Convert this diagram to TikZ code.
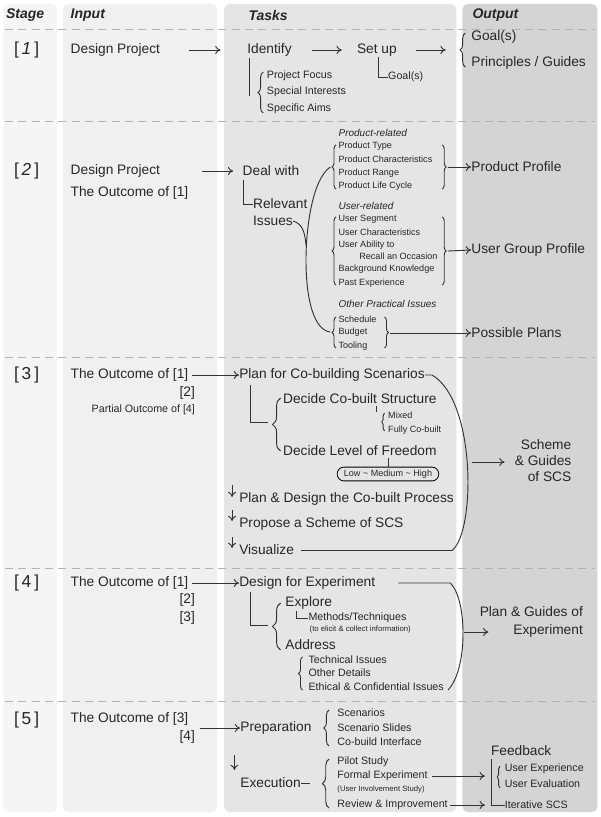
\documentclass[tikz,border=0pt]{standalone}
\usepackage{fontspec}
\setmainfont{Liberation Sans}
\usetikzlibrary{decorations.pathreplacing,arrows.meta}
\begin{document}
\begin{tikzpicture}[x=0.866pt,y=-0.75pt,
    every node/.style={inner sep=0pt,anchor=west,text=black!85},
    main/.style={font=\fontsize{10.3}{11}\selectfont},
    small/.style={font=\fontsize{6.8}{7}\selectfont},
    mid/.style={font=\fontsize{8}{9}\selectfont},
    tiny/.style={font=\fontsize{5.8}{6}\selectfont},
    cat/.style={font=\fontsize{7.5}{8}\selectfont\itshape},
    head/.style={font=\fontsize{10.5}{11}\selectfont\bfseries\itshape},
    stage/.style={anchor=center,font=\fontsize{13}{13}\selectfont},
    link/.style={line width=0.7pt,black!80},
    go/.style={link,-{To[length=4pt,width=6pt]}},
    brace/.style={link,decorate,decoration={brace,amplitude=#1}},
    brace/.default=4pt,
    sep/.style={gray!60,dashed,dash pattern=on 6pt off 4pt,line width=0.6pt}]
    % Column backgrounds
    \useasboundingbox (0,0) rectangle (520,817);
    \begin{scope}[xscale=0.8667]
    \fill[black!4,rounded corners=4pt] (3,4) rectangle (57,812);
    \fill[black!6,rounded corners=4pt] (63,4) rectangle (217,812);
    \fill[black!10,rounded corners=4pt] (224,4) rectangle (456,812);
    \fill[black!17,rounded corners=4pt] (462,4) rectangle (597,812);
    \foreach \y in {29,121,357,568,701} \draw[sep] (5,\y) -- (595,\y);
    \end{scope}

    % Headers
    \node[head] (hstage) at (5,15) {Stage};
    \node[head] (hinput) at (61,15) {Input};
    \node[head] (htasks) at (215,15) {Tasks};
    \node[head] (houtput) at (409,15) {Output};

    % Stage 1
    \node[stage] (s1) at (23,50) {[\,\textit{1}\,]};
    \node[main] (in1) at (61,50) {Design Project};
    \node[main] (ident) at (214,50) {Identify};
    \node[main] (setup) at (309,50) {Set up};
    \node[main] (goal) at (408,37) {Goal(s)};
    \node[main] (princ) at (408,63) {Principles / Guides};
    \node[mid] (pf) at (231,76) {Project Focus};
    \node[mid] (si) at (231,92) {Special Interests};
    \node[mid] (sa) at (231,109) {Specific Aims};
    \node[mid] (goal1) at (336,77) {Goal(s)};
    \draw[go] (164,50) -- (191,50);
    \draw[go] (270,50) -- (296,50);
    \draw[go] (360,50) -- (386,50);
    \draw[brace] (403,67) -- (403,33);
    \draw[link] (216,58) -- (216,96);
    \draw[brace] (228,113) -- (228,72);
    \draw[link] (328,57) |- (goal1.west);

    % Stage 2
    \node[stage] (s2) at (23,171) {[\,\textit{2}\,]};
    \node[main] (in2) at (61,171) {Design Project};
    \node[main] (in2b) at (61,193) {The Outcome of [1]};
    \node[main] (deal) at (210,171) {Deal with};
    \node[main] (relev) at (219,204) {Relevant};
    \node[main] (issue) at (219,221) {Issues};
    \draw[go] (175,171) -- (202,171);
    \draw[link] (211,180) |- (relev.west);
    \node[cat] (cprod) at (293,133) {Product-related};
    \foreach \t [count=\i] in {Product Type,Product Characteristics,Product Range,Product Life Cycle}
        \node[small] (p\i) at (293,133+13.3*\i) {\t};
    \node[cat] (cuser) at (293,206) {User-related};
    \node[small] (u1) at (293,219) {User Segment};
    \node[small] (u2) at (293,232) {User Characteristics};
    \node[small] (u3) at (293,245) {User Ability to};
    \node[small] (u3b) at (311,256) {Recall an Occasion};
    \node[small] (u4) at (293,269) {Background Knowledge};
    \node[small] (u5) at (293,283) {Past Experience};
    \node[cat] (cother) at (293,304) {Other Practical Issues};
    \node[small] (o1) at (293,319) {Schedule};
    \node[small] (o2) at (293,332) {Budget};
    \node[small] (o3) at (293,346) {Tooling};
    \node[main] (pprof) at (408,167) {Product Profile};
    \node[main] (ugprof) at (408,250) {User Group Profile};
    \node[main] (plans) at (408,333) {Possible Plans};
    \draw[brace=3pt] (291,189) -- (291,145);
    \draw[brace=3pt] (291,285) -- (291,217);
    \draw[brace=3pt] (291,348) -- (291,317);
    \draw[brace=3pt] (383,145) -- (383,189);
    \draw[brace=3pt] (383,217) -- (383,285);
    \draw[brace=3pt] (333,317) -- (333,348);
    \draw[link] (286,167) .. controls (270,180) and (265,230) .. (265,260)
        .. controls (265,300) and (272,330) .. (286,332);
    \draw[link] (issue.east) .. controls (262,224) and (264,232) .. (265,245);
    \draw[go] (388,167) -- (pprof.west);
    \draw[go] (388,251) -- (ugprof.west);
    \draw[go] (338,333) -- (plans.west);

    % Stage 3
    \node[stage] (s3) at (23,375) {[\,3\,]};
    \node[main] (in3) at (61,375) {The Outcome of [1]};
    \node[main,anchor=east] (in3b) at (169,393) {[2]};
    \node[mid,anchor=east] (in3c) at (169,410) {Partial Outcome of [4]};
    \node[main] (plan) at (207,375) {Plan for Co-building Scenarios};
    \node[main] (dcs) at (245,399) {Decide Co-built Structure};
    \node[small] (mixed) at (336,415) {Mixed};
    \node[small] (fully) at (336,430) {Fully Co-built};
    \node[main] (dlf) at (245,451) {Decide Level of Freedom};
    \node[small,draw,rounded corners=5pt,line width=0.6pt,inner xsep=5pt,inner ysep=2pt,anchor=center]
        (lmh) at (336,474) {Low \textasciitilde{} Medium \textasciitilde{} High};
    \node[main] (pdp) at (207,499) {Plan \& Design the Co-built Process};
    \node[main] (pss) at (207,524) {Propose a Scheme of SCS};
    \node[main] (vis) at (207,550) {Visualize};
    \node[main,align=right,anchor=east] (scheme) at (495,461) {Scheme\\[1pt]\& Guides\\[1pt]of SCS};
    \draw[go] (in3.east) ++(3,0) -- (plan.west);
    \draw[link] (plan.east) -- ++(6,0) coordinate (c3)
        .. controls (412,400) and (412,530) .. (392,550) coordinate (d3);
    \draw[link] (vis.east) ++(6,0) -- (d3);
    \draw[link] (217,385) |- (232,422);
    \draw[brace=6pt] (243,451) -- (243,398);
    \draw[brace=2pt] (333,431) -- (333,413);
    \draw[link] (326,406) -- (326,412);
    \draw[link] (336,458) -- (lmh.north);
    \draw[go] (409,462) -- (437,462);
    \foreach \a/\b in {485/497,510/521,537/548} \draw[go] (201,\a) -- (201,\b);

    % Stage 4
    \node[stage] (s4) at (23,583) {[\,4\,]};
    \node[main] (in4) at (61,583) {The Outcome of [1]};
    \node[main,anchor=east] (in4b) at (169,600) {[2]};
    \node[main,anchor=east] (in4c) at (169,618) {[3]};
    \node[main] (dfe) at (207,583) {Design for Experiment};
    \node[main] (expl) at (247,603) {Explore};
    \node[mid] (meth) at (267,618) {Methods/Techniques};
    \node[tiny] (elicit) at (268,629) {(to elicit \& collect information)};
    \node[main] (addr) at (247,645) {Address};
    \node[mid] (tech) at (267,660) {Technical Issues};
    \node[mid] (oth) at (267,673) {Other Details};
    \node[mid] (eth) at (267,687) {Ethical \& Confidential Issues};
    \node[main,align=right,anchor=east] (pge) at (505,622) {Plan \& Guides of\\[2pt]Experiment};
    \draw[go] (in4.east) ++(3,0) -- (dfe.west);
    \draw[link] (345,583) -- (390,583)
        .. controls (405,600) and (405,670) .. (388,690);
    \draw[go] (402,632) -- (423,632);
    \draw[link] (217,592) |- (232,625);
    \draw[brace=6pt] (243,650) -- (243,603);
    \draw[link] (257,611) |- (meth.west);
    \draw[brace=3pt] (262,690) -- (262,657);

    % Stage 5
    \node[stage] (s5) at (23,720) {[\,5\,]};
    \node[main] (in5) at (61,719) {The Outcome of [3]};
    \node[main,anchor=east] (in5b) at (169,737) {[4]};
    \node[main] (prep) at (208,728) {Preparation};
    \node[mid] (scen) at (292,713) {Scenarios};
    \node[mid] (slides) at (292,728) {Scenario Slides};
    \node[mid] (iface) at (292,742) {Co-build Interface};
    \node[main] (exec) at (208,783) {Execution};
    \node[mid] (pilot) at (292,762) {Pilot Study};
    \node[mid] (formal) at (292,776) {Formal Experiment};
    \node[tiny] (uis) at (292,789) {(User Involvement Study)};
    \node[mid] (review) at (292,805) {Review \& Improvement};
    \node[main] (fb) at (425,751) {Feedback};
    \node[mid] (ux) at (437,769) {User Experience};
    \node[mid] (ue) at (437,784) {User Evaluation};
    \node[mid] (iter) at (437,805) {Iterative SCS};
    \draw[go] (173,728) -- (prep.west);
    \draw[brace=4pt] (285,746) -- (285,710);
    \draw[go] (203,755) -- (203,770);
    \draw[link] (exec.east) -- ++(8,0);
    \draw[brace=5pt] (285,808) -- (285,759);
    \draw[go] (formal.east) ++(4,0) -- (420,776);
    \draw[go] (review.east) ++(2,0) -- (420,805);
    \draw[link] (426,759) |- (iter.west);
    \draw[brace=2pt] (433,788) -- (433,766);
\end{tikzpicture}
\end{document}
